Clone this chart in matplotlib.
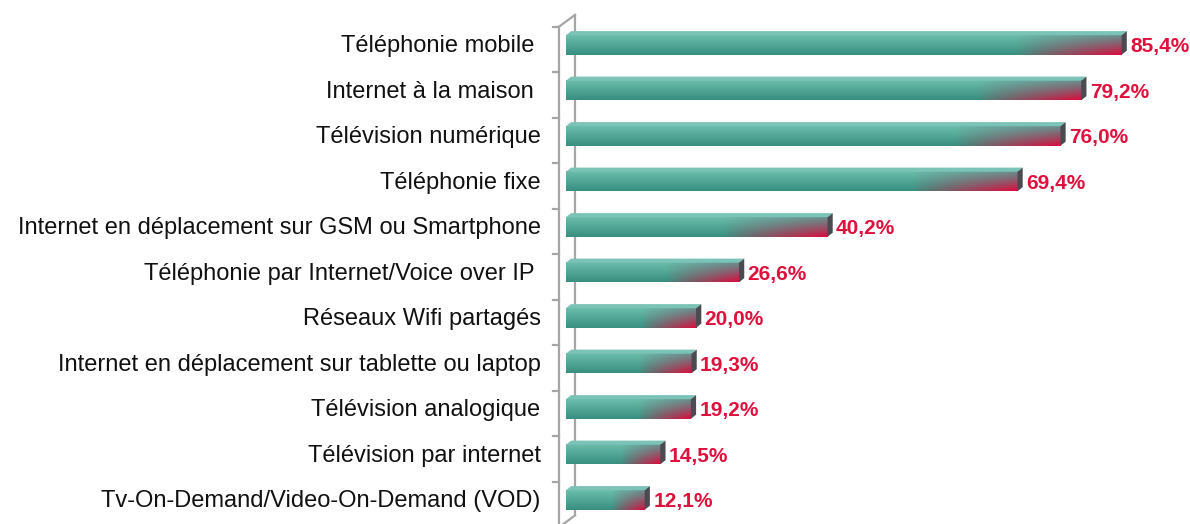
import matplotlib.pyplot as plt
import matplotlib.patches as mpatches
import numpy as np

plt.rcParams['font.family'] = ['Liberation Sans', 'DejaVu Sans']

categories = [
    "Téléphonie mobile ",
    "Internet à la maison ",
    "Télévision numérique",
    "Téléphonie fixe",
    "Internet en déplacement sur GSM ou Smartphone",
    "Téléphonie par Internet/Voice over IP ",
    "Réseaux Wifi partagés",
    "Internet en déplacement sur tablette ou laptop",
    "Télévision analogique",
    "Télévision par internet",
    "Tv-On-Demand/Video-On-Demand (VOD)",
]
values = [85.4, 79.2, 76.0, 69.4, 40.2, 26.6, 20.0, 19.3, 19.2, 14.5, 12.1]
labels = ["85,4%", "79,2%", "76,0%", "69,4%", "40,2%", "26,6%",
          "20,0%", "19,3%", "19,2%", "14,5%", "12,1%"]

teal_top = np.array([0.42, 0.74, 0.67])
teal_bot = np.array([0.22, 0.56, 0.50])
grey_end = np.array([0.42, 0.44, 0.48])
red_end = np.array([0.88, 0.04, 0.24])
red_txt = '#e0103c'

fig = plt.figure(figsize=(11.9, 5.24), dpi=100)
ax = fig.add_axes([0.4756, 0.0024, 0.5194, 0.9552])
ax.set_xlim(0, 95)
ax.set_ylim(-0.5, 10.5)
ax.axis('off')

n = len(values)
h = 0.43
dx, dy = 0.8, 0.09

# 3d-ish axis wall
fx0, fy_top, fy_bot = -1.08, 10.4, -0.6
bx, by = 2.46, 0.26
gcol = '#a6a6a6'
ax.plot([fx0, fx0], [fy_bot, fy_top], color=gcol, lw=1.6, clip_on=False)
ax.plot([fx0 + bx, fx0 + bx], [fy_bot + by, fy_top + by], color=gcol, lw=1.6, clip_on=False)
ax.plot([fx0, fx0 + bx], [fy_top, fy_top + by], color=gcol, lw=1.6, clip_on=False)
ax.plot([fx0, fx0 + bx], [fy_bot, fy_bot + by], color=gcol, lw=1.6, clip_on=False)
for k in range(12):
    yk = fy_top - k
    ax.plot([fx0 - 0.9, fx0], [yk, yk], color=gcol, lw=1.6, clip_on=False)

for i, (cat, v, lab) in enumerate(zip(categories, values, labels)):
    y = n - 1 - i
    y0, y1 = y - h / 2, y + h / 2
    # gradient body
    nx, ny = 200, 30
    t = np.linspace(0, 1, nx)[None, :]
    s = np.linspace(0, 1, ny)[:, None]  # 0 = top, 1 = bottom
    base = teal_top[None, None, :] * (1 - s[..., None]) + teal_bot[None, None, :] * s[..., None]
    target = grey_end[None, None, :] * (1 - s[..., None]) + red_end[None, None, :] * s[..., None]
    t0 = 1 - min(0.42, 16.0 / v)
    w = np.clip((t - t0) / (1 - t0), 0, 1) ** 0.9
    w = w * (0.6 + 0.4 * s)
    img = base * (1 - w[..., None]) + target * w[..., None]
    ax.imshow(img, extent=[0, v, y0, y1], aspect='auto', origin='upper',
              zorder=3, interpolation='bilinear')
    # top face
    top = mpatches.Polygon([[0, y1], [v, y1], [v + dx, y1 + dy], [dx, y1 + dy]],
                           closed=True, facecolor='#7cc3b7', edgecolor='none', zorder=3)
    ax.add_patch(top)
    # side face
    side = mpatches.Polygon([[v, y0], [v, y1], [v + dx, y1 + dy], [v + dx, y0 + dy]],
                            closed=True, facecolor='#4a4a50', edgecolor='none', zorder=3)
    ax.add_patch(side)
    ax.text(v + 1.3, y - 0.04, lab, color=red_txt, fontsize=15, fontweight='bold',
            ha='left', va='center', zorder=4)
    ax.text(-3.9, y - 0.03, cat, color='#111111', fontsize=17, ha='right', va='center',
            clip_on=False)

fig.savefig('out.png', dpi=100)
